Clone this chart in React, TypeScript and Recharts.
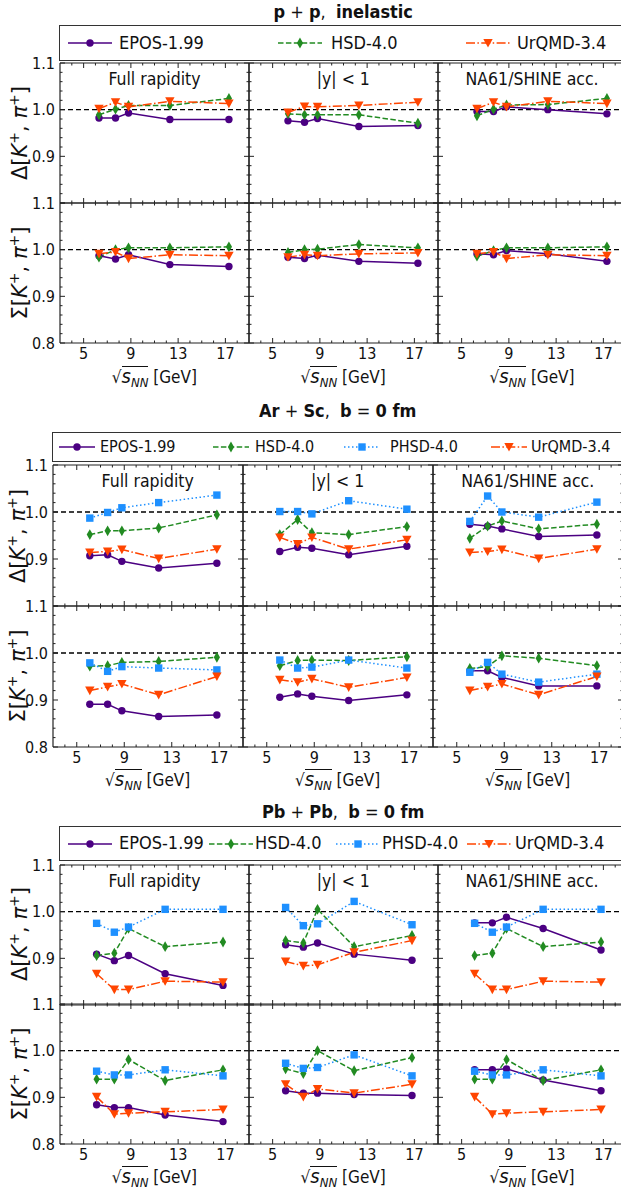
import React from "react";
import { LineChart, Line, XAxis, YAxis, ReferenceLine } from "recharts";

// collision energies (sqrt(s_NN), GeV)
const ENERGY_PP = [6.3, 7.7, 8.8, 12.3, 17.3];
const ENERGY_ARSC = [6.1, 7.6, 8.8, 11.9, 16.8];
const ENERGY_PBPB = [6.1, 7.6, 8.8, 11.9, 16.8];

const PANEL_TITLES = ["Full rapidity", "|y| < 1", "NA61/SHINE acc."];
const X_MAJOR = [5, 9, 13, 17];
const X_ALL = [4, 5, 6, 7, 8, 9, 10, 11, 12, 13, 14, 15, 16, 17, 18];
const Y_MAJOR = [0.8, 0.9, 1.0, 1.1];
const Y_ALL = [0.8, 0.82, 0.84, 0.86, 0.88, 0.9, 0.92, 0.94, 0.96, 0.98, 1.0, 1.02, 1.04, 1.06, 1.08, 1.1];

// each array: [full rapidity, |y|<1, NA61 acceptance]
const PP_DELTA_EPOS = [[0.982, 0.982, 0.993, 0.979, 0.979], [0.976, 0.973, 0.981, 0.964, 0.966], [0.996, 0.996, 1.006, 1.0, 0.991]];
const PP_DELTA_HSD = [[0.989, 1.001, 1.009, 1.009, 1.024], [0.991, 0.989, 0.989, 0.989, 0.971], [0.987, 1.001, 1.01, 1.011, 1.024]];
const PP_DELTA_URQMD = [[1.002, 1.016, 1.006, 1.018, 1.013], [0.994, 1.007, 1.006, 1.009, 1.016], [1.002, 1.016, 1.006, 1.018, 1.013]];
const PP_SIGMA_EPOS = [[0.987, 0.98, 0.989, 0.968, 0.964], [0.984, 0.981, 0.988, 0.975, 0.971], [0.991, 0.989, 0.998, 0.991, 0.975]];
const PP_SIGMA_HSD = [[0.984, 1.0, 1.004, 1.004, 1.006], [0.994, 1.0, 1.001, 1.011, 1.004], [0.986, 0.998, 1.004, 1.004, 1.006]];
const PP_SIGMA_URQMD = [[0.991, 0.995, 0.981, 0.989, 0.987], [0.984, 0.989, 0.987, 0.991, 0.993], [0.991, 0.995, 0.981, 0.989, 0.987]];

const ARSC_DELTA_EPOS = [[0.907, 0.909, 0.895, 0.881, 0.891], [0.916, 0.925, 0.923, 0.909, 0.927], [0.974, 0.97, 0.964, 0.948, 0.951]];
const ARSC_DELTA_HSD = [[0.952, 0.96, 0.96, 0.966, 0.994], [0.952, 0.984, 0.956, 0.952, 0.969], [0.944, 0.97, 0.981, 0.964, 0.974]];
const ARSC_DELTA_PHSD = [[0.987, 0.999, 1.009, 1.02, 1.036], [1.001, 1.001, 0.996, 1.024, 1.006], [0.98, 1.034, 1.0, 0.989, 1.021]];
const ARSC_DELTA_URQMD = [[0.914, 0.916, 0.92, 0.901, 0.921], [0.946, 0.932, 0.946, 0.921, 0.941], [0.914, 0.916, 0.92, 0.901, 0.921]];
const ARSC_SIGMA_EPOS = [[0.891, 0.891, 0.877, 0.865, 0.868], [0.906, 0.913, 0.908, 0.899, 0.911], [0.962, 0.962, 0.948, 0.93, 0.93]];
const ARSC_SIGMA_HSD = [[0.972, 0.973, 0.98, 0.982, 0.991], [0.973, 0.984, 0.985, 0.984, 0.992], [0.967, 0.971, 0.994, 0.989, 0.973]];
const ARSC_SIGMA_PHSD = [[0.979, 0.961, 0.971, 0.968, 0.964], [0.985, 0.968, 0.97, 0.985, 0.968], [0.959, 0.98, 0.955, 0.938, 0.955]];
const ARSC_SIGMA_URQMD = [[0.92, 0.928, 0.934, 0.911, 0.95], [0.943, 0.938, 0.945, 0.927, 0.948], [0.92, 0.928, 0.934, 0.911, 0.95]];

const PBPB_DELTA_EPOS = [[0.909, 0.895, 0.906, 0.867, 0.842], [0.929, 0.924, 0.933, 0.909, 0.896], [0.976, 0.976, 0.988, 0.964, 0.918]];
const PBPB_DELTA_HSD = [[0.906, 0.911, 0.964, 0.925, 0.935], [0.938, 0.933, 1.005, 0.925, 0.949], [0.906, 0.911, 0.964, 0.925, 0.935]];
const PBPB_DELTA_PHSD = [[0.975, 0.956, 0.967, 1.005, 1.005], [1.009, 0.97, 0.974, 1.022, 0.972], [0.975, 0.956, 0.967, 1.005, 1.005]];
const PBPB_DELTA_URQMD = [[0.867, 0.833, 0.833, 0.851, 0.849], [0.893, 0.884, 0.886, 0.913, 0.938], [0.867, 0.833, 0.833, 0.851, 0.849]];
const PBPB_SIGMA_EPOS = [[0.884, 0.878, 0.878, 0.862, 0.848], [0.914, 0.909, 0.909, 0.906, 0.904], [0.959, 0.959, 0.961, 0.937, 0.914]];
const PBPB_SIGMA_HSD = [[0.939, 0.939, 0.981, 0.936, 0.959], [0.961, 0.951, 1.0, 0.957, 0.985], [0.939, 0.939, 0.981, 0.936, 0.959]];
const PBPB_SIGMA_PHSD = [[0.956, 0.948, 0.948, 0.959, 0.946], [0.973, 0.962, 0.964, 0.991, 0.946], [0.956, 0.948, 0.948, 0.959, 0.946]];
const PBPB_SIGMA_URQMD = [[0.901, 0.864, 0.866, 0.869, 0.874], [0.928, 0.901, 0.918, 0.909, 0.928], [0.901, 0.864, 0.866, 0.869, 0.874]];

const FONT = "'DejaVu Sans Condensed', 'DejaVu Sans', sans-serif";
const INK = "#111";
const FRAME = "#222";
const M = 30; // svg padding around each panel's plot area

const MODEL_STYLE: Record<string, { label: string; color: string; dash?: string; marker: string }> = {
  epos: { label: "EPOS-1.99", color: "#4b0082", marker: "circle" },
  hsd: { label: "HSD-4.0", color: "#228b22", dash: "5.5 2.4", marker: "diamond" },
  phsd: { label: "PHSD-4.0", color: "#1e90ff", dash: "1.5 2.5", marker: "square" },
  urqmd: { label: "UrQMD-3.4", color: "#ff4500", dash: "9 2.4 1.5 2.4", marker: "tri" },
};

function Marker({ cx, cy, kind, color }: { cx: number; cy: number; kind: string; color: string }) {
  if (cx == null || cy == null) return null;
  if (kind === "circle") return <circle cx={cx} cy={cy} r={3.7} fill={color} />;
  if (kind === "square") return <rect x={cx - 3.7} y={cy - 3.7} width={7.4} height={7.4} fill={color} />;
  if (kind === "diamond")
    return <polygon points={`${cx},${cy - 5.4} ${cx + 3.1},${cy} ${cx},${cy + 5.4} ${cx - 3.1},${cy}`} fill={color} />;
  return <polygon points={`${cx - 4.7},${cy - 4} ${cx + 4.7},${cy - 4} ${cx},${cy + 4.6}`} fill={color} />;
}

const isMajor = (list: number[], v: number) => list.some((m) => Math.abs(m - v) < 1e-6);

type Series = { model: string; values: number[] };

function Panel({ x, y, w, h, xs, series, row, col }: {
  x: number; y: number; w: number; h: number; xs: number[]; series: Series[]; row: number; col: number;
}) {
  const axisLine = { stroke: FRAME, strokeWidth: 1.2 };
  const textStyle = { fontFamily: FONT, fontSize: 16, fill: INK, fontStretch: "condensed" } as any;
  const xc = { type: "number" as const, dataKey: "x", domain: [3, 19], allowDataOverflow: true, interval: 0 as const, ticks: X_ALL, tickLine: false };
  const yc = { type: "number" as const, domain: [0.8, 1.1], allowDataOverflow: true, interval: 0 as const, ticks: Y_ALL, tickLine: false };

  const bottomTick = (p: any) => {
    const v = p.payload.value;
    const maj = isMajor(X_MAJOR, v);
    const yb = M + h;
    return (
      <g key={`b${v}`}>
        <line x1={p.x} x2={p.x} y1={yb} y2={yb - (maj ? 5 : 2.5)} stroke={FRAME} strokeWidth={1} />
        {maj && row === 1 && <text x={p.x} y={yb + 16} textAnchor="middle" style={textStyle}>{v}</text>}
      </g>
    );
  };
  const topTick = (p: any) => {
    const v = p.payload.value;
    const maj = isMajor(X_MAJOR, v);
    return <line key={`t${v}`} x1={p.x} x2={p.x} y1={M} y2={M + (maj ? 5 : 2.5)} stroke={FRAME} strokeWidth={1} />;
  };
  const leftTick = (p: any) => {
    const v = p.payload.value;
    const maj = isMajor(Y_MAJOR, v);
    const showLabel = maj && col === 0 && !(row === 0 && v < 0.85);
    return (
      <g key={`l${v}`}>
        <line x1={M} x2={M + (maj ? 5 : 2.5)} y1={p.y} y2={p.y} stroke={FRAME} strokeWidth={1} />
        {showLabel && <text x={M - 5} y={p.y + 5.8} textAnchor="end" style={textStyle}>{v.toFixed(1)}</text>}
      </g>
    );
  };
  const rightTick = (p: any) => {
    const v = p.payload.value;
    const maj = isMajor(Y_MAJOR, v);
    return <line key={`r${v}`} x1={M + w} x2={M + w - (maj ? 5 : 2.5)} y1={p.y} y2={p.y} stroke={FRAME} strokeWidth={1} />;
  };

  return (
    <div style={{ position: "absolute", left: x - M, top: y - M, width: w + 2 * M, height: h + 2 * M }}>
      <LineChart width={w + 2 * M} height={h + 2 * M} margin={{ top: 0, right: 0, bottom: 0, left: 0 }}>
        <XAxis xAxisId="b" {...xc} height={M} tick={bottomTick} axisLine={axisLine} />
        <XAxis xAxisId="t" {...xc} orientation="top" height={M} tick={topTick} axisLine={axisLine} />
        <YAxis yAxisId="l" {...yc} width={M} tick={leftTick} axisLine={axisLine} />
        <YAxis yAxisId="r" {...yc} orientation="right" width={M} tick={rightTick} axisLine={axisLine} />
        <ReferenceLine xAxisId="b" yAxisId="l" y={1} stroke="#000" strokeWidth={1.4} strokeDasharray="5 3" />
        {series.map((s) => {
          const st = MODEL_STYLE[s.model];
          return (
            <Line key={s.model} xAxisId="b" yAxisId="l" data={xs.map((e, i) => ({ x: e, y: s.values[i] }))}
              dataKey="y" stroke={st.color} strokeWidth={1.5} strokeDasharray={st.dash}
              isAnimationActive={false}
              dot={(p: any) => <Marker key={`${s.model}-${p.index}`} cx={p.cx} cy={p.cy} kind={st.marker} color={st.color} />}
              activeDot={false} />
          );
        })}
      </LineChart>
      {row === 0 && (
        <div style={{ position: "absolute", left: M, top: M + 6, width: w, textAlign: "center", fontFamily: FONT, fontStretch: "condensed", fontSize: 17.5, color: INK, whiteSpace: "nowrap" }}>
          {PANEL_TITLES[col]}
        </div>
      )}
    </div>
  );
}

function LegendEntry({ model, marker, text, y, fontSize, half }: { model: string; marker: number; text: number; y: number; fontSize: number; half: number }) {
  const st = MODEL_STYLE[model];
  return (
    <>
      <svg style={{ position: "absolute", left: marker - half, top: y - 8, overflow: "visible" }} width={half * 2} height={16}>
        <line x1={0} y1={8} x2={half * 2} y2={8} stroke={st.color} strokeWidth={1.5} strokeDasharray={st.dash} />
        <Marker cx={half} cy={8} kind={st.marker} color={st.color} />
      </svg>
      <div style={{ position: "absolute", left: text, top: y - fontSize * 0.62, fontFamily: FONT, fontStretch: "condensed", fontSize, color: INK, whiteSpace: "nowrap", lineHeight: 1.2 }}>
        {st.label}
      </div>
    </>
  );
}

type Block = {
  title: React.ReactNode; titleY: number; left: number; pw: number; tops: number[]; hs: number[];
  legend: { left: number; top: number; h: number; font: number; half: number; items: { model: string; marker: number; text: number }[] };
  xs: number[]; labelX: number; xTitleY: number;
  delta: Series[][]; sigma: Series[][];
};

const mk = (models: string[], arrays: number[][][]) =>
  [0, 1, 2].map((c) => models.map((m, k) => ({ model: m, values: arrays[k][c] })));

const BLOCKS: Block[] = [
  {
    title: <><b>p</b> + <b>p</b>,&nbsp; <b>inelastic</b></>,
    titleY: 12, left: 60, pw: 188.8, tops: [63.3, 203.3], hs: [140, 140],
    legend: { left: 59.3, top: 25, h: 35.7, font: 18, half: 22, items: [
      { model: "epos", marker: 90, text: 119 }, { model: "hsd", marker: 300, text: 331 }, { model: "urqmd", marker: 488, text: 517 }] },
    xs: ENERGY_PP, labelX: 19, xTitleY: 376.8,
    delta: mk(["epos", "hsd", "urqmd"], [PP_DELTA_EPOS, PP_DELTA_HSD, PP_DELTA_URQMD]),
    sigma: mk(["epos", "hsd", "urqmd"], [PP_SIGMA_EPOS, PP_SIGMA_HSD, PP_SIGMA_URQMD]),
  },
  {
    title: <><b>Ar</b> + <b>Sc</b>,&nbsp; <b>b</b> = <b>0 fm</b></>,
    titleY: 411, left: 52.7, pw: 190, tops: [465.3, 606], hs: [140.7, 140.7],
    legend: { left: 51.7, top: 431.7, h: 30, font: 16, half: 18, items: [
      { model: "epos", marker: 77, text: 100 }, { model: "hsd", marker: 231, text: 255 },
      { model: "phsd", marker: 362, text: 390 }, { model: "urqmd", marker: 509, text: 531 }] },
    xs: ENERGY_ARSC, labelX: 16.5, xTitleY: 780.2,
    delta: mk(["epos", "hsd", "phsd", "urqmd"], [ARSC_DELTA_EPOS, ARSC_DELTA_HSD, ARSC_DELTA_PHSD, ARSC_DELTA_URQMD]),
    sigma: mk(["epos", "hsd", "phsd", "urqmd"], [ARSC_SIGMA_EPOS, ARSC_SIGMA_HSD, ARSC_SIGMA_PHSD, ARSC_SIGMA_URQMD]),
  },
  {
    title: <><b>Pb</b> + <b>Pb</b>,&nbsp; <b>b</b> = <b>0 fm</b></>,
    titleY: 812, left: 60, pw: 188.8, tops: [864.7, 1004.2], hs: [139.5, 139.8],
    legend: { left: 59.3, top: 826, h: 35, font: 18, half: 22, items: [
      { model: "epos", marker: 90, text: 119 }, { model: "hsd", marker: 231, text: 255 },
      { model: "phsd", marker: 358, text: 382 }, { model: "urqmd", marker: 489, text: 515 }] },
    xs: ENERGY_PBPB, labelX: 19, xTitleY: 1177,
    delta: mk(["epos", "hsd", "phsd", "urqmd"], [PBPB_DELTA_EPOS, PBPB_DELTA_HSD, PBPB_DELTA_PHSD, PBPB_DELTA_URQMD]),
    sigma: mk(["epos", "hsd", "phsd", "urqmd"], [PBPB_SIGMA_EPOS, PBPB_SIGMA_HSD, PBPB_SIGMA_PHSD, PBPB_SIGMA_URQMD]),
  },
];

function YLabel({ x, y, sym }: { x: number; y: number; sym: string }) {
  return (
    <div style={{ position: "absolute", left: x, top: y, transform: "translate(-50%, -50%) rotate(-90deg)",
      fontFamily: "'DejaVu Sans', sans-serif", fontSize: 21, color: INK, whiteSpace: "nowrap", lineHeight: 1 }}>
      {sym}[<i>K</i><sup style={{ fontSize: 14 }}>+</sup>, <i>π</i><sup style={{ fontSize: 14 }}>+</sup>]
    </div>
  );
}

function XTitle({ x, y, w }: { x: number; y: number; w: number }) {
  return (
    <div style={{ position: "absolute", left: x, top: y - 10, width: w, height: 18, textAlign: "center", fontFamily: FONT, fontStretch: "condensed", fontSize: 17, color: INK, whiteSpace: "nowrap", lineHeight: "18px" }}>
      √<span style={{ borderTop: "1.2px solid #111", fontStyle: "italic", fontFamily: "'DejaVu Sans', sans-serif" }}>
        <span style={{ fontSize: 20 }}>s</span>
        <span style={{ fontSize: 13, position: "relative", top: 4 }}>NN</span>
      </span> [GeV]
    </div>
  );
}

export default function App() {
  return (
    <div style={{ position: "absolute", left: 0, top: 0, width: 621, height: 1191, background: "#fff", overflow: "hidden" }}>
      <style>{`.recharts-surface{overflow:visible}`}</style>
      {BLOCKS.map((b, bi) => (
        <React.Fragment key={bi}>
          <div style={{ position: "absolute", left: b.left, width: b.pw * 3, top: b.titleY - 12, textAlign: "center",
            fontFamily: FONT, fontStretch: "condensed", fontSize: 18, color: INK, lineHeight: 1.3, whiteSpace: "nowrap" }}>{b.title}</div>
          <div style={{ position: "absolute", left: b.legend.left, top: b.legend.top, width: 600, height: b.legend.h,
            border: "1.2px solid #333", boxSizing: "border-box" }} />
          {b.legend.items.map((it) => (
            <LegendEntry key={it.model} model={it.model} marker={it.marker} text={it.text}
              y={b.legend.top + b.legend.h / 2} fontSize={b.legend.font} half={b.legend.half} />
          ))}
          {[0, 1].map((r) =>
            [0, 1, 2].map((c) => (
              <Panel key={`${r}-${c}`} x={b.left + c * b.pw} y={b.tops[r]} w={Math.round(b.pw)} h={Math.round(b.hs[r])}
                xs={b.xs} series={r === 0 ? b.delta[c] : b.sigma[c]} row={r} col={c} />
            ))
          )}
          <YLabel x={b.labelX} y={b.tops[0] + b.hs[0] / 2} sym="Δ" />
          <YLabel x={b.labelX} y={b.tops[1] + b.hs[1] / 2} sym="Σ" />
          {[0, 1, 2].map((c) => (
            <XTitle key={c} x={b.left + c * b.pw} y={b.xTitleY} w={b.pw} />
          ))}
        </React.Fragment>
      ))}
    </div>
  );
}
